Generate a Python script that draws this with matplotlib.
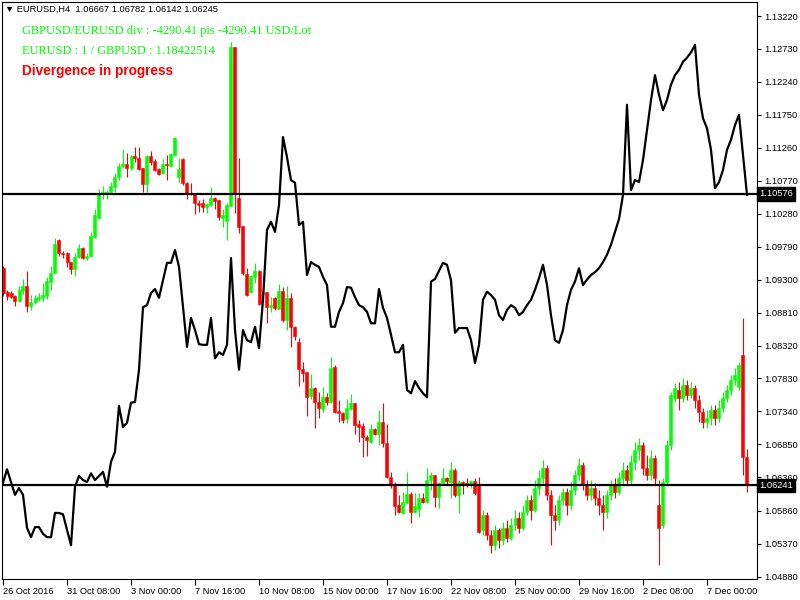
import numpy as np
import matplotlib
matplotlib.use("Agg")
import matplotlib.pyplot as plt

# EURUSD H4 candles
opens = [1.0947, 1.0912, 1.0910, 1.0906, 1.0898, 1.0913, 1.0921, 1.0891, 1.0897, 1.0901,
         1.0903, 1.0906, 1.0927, 1.0940, 1.0989, 1.0970, 1.0970, 1.0956, 1.0946, 1.0964,
         1.0977, 1.0962, 1.0965, 1.0993, 1.1022, 1.1057, 1.1059, 1.1060, 1.1068, 1.1083,
         1.1099, 1.1102, 1.1096, 1.1114, 1.1111, 1.1096, 1.1072, 1.1114, 1.1106, 1.1094,
         1.1089, 1.1102, 1.1099, 1.1115, 1.1083, 1.1109, 1.1074, 1.1059, 1.1059, 1.1044,
         1.1044, 1.1038, 1.1041, 1.1051, 1.1048, 1.1022, 1.1017, 1.1040, 1.1276, 1.1051,
         1.1010, 1.0938, 1.0912, 1.0934, 1.0943, 1.0909, 1.0912, 1.0889, 1.0903, 1.0886,
         1.0913, 1.0870, 1.0903, 1.0860, 1.0837, 1.0797, 1.0793, 1.0757, 1.0769, 1.0748,
         1.0738, 1.0755, 1.0748, 1.0800, 1.0735, 1.0732, 1.0723, 1.0738, 1.0747, 1.0715,
         1.0712, 1.0696, 1.0689, 1.0708, 1.0700, 1.0718, 1.0687, 1.0636, 1.0625, 1.0595,
         1.0583, 1.0598, 1.0611, 1.0584, 1.0589, 1.0605, 1.0599, 1.0632, 1.0640, 1.0607,
         1.0628, 1.0635, 1.0629, 1.0647, 1.0610, 1.0629, 1.0628, 1.0625, 1.0631, 1.0625,
         1.0558, 1.0580, 1.0550, 1.0535, 1.0558, 1.0543, 1.0561, 1.0546, 1.0565, 1.0576,
         1.0561, 1.0584, 1.0602, 1.0587, 1.0620, 1.0635, 1.0650, 1.0610, 1.0580, 1.0573,
         1.0602, 1.0614, 1.0595, 1.0617, 1.0640, 1.0654, 1.0625, 1.0610, 1.0620, 1.0605,
         1.0595, 1.0584, 1.0610, 1.0625, 1.0614, 1.0635, 1.0647, 1.0632, 1.0659, 1.0677,
         1.0684, 1.0650, 1.0640, 1.0665, 1.0595, 1.0565, 1.0629, 1.0684, 1.0754, 1.0766,
         1.0754, 1.0773, 1.0759, 1.0769, 1.0751, 1.0733, 1.0718, 1.0724, 1.0736, 1.0724,
         1.0739, 1.0754, 1.0766, 1.0781, 1.0770, 1.0818, 1.06667]
highs = [1.0950, 1.0915, 1.0913, 1.0907, 1.0921, 1.0931, 1.0943, 1.0907, 1.0907, 1.0910,
         1.0925, 1.0934, 1.0950, 1.0992, 1.0990, 1.0973, 1.0971, 1.0956, 1.0970, 1.0983,
         1.0979, 1.0970, 1.1001, 1.1035, 1.1065, 1.1069, 1.1063, 1.1075, 1.1089, 1.1103,
         1.1124, 1.1118, 1.1115, 1.1127, 1.1127, 1.1096, 1.1115, 1.1121, 1.1109, 1.1096,
         1.1109, 1.1115, 1.1118, 1.1142, 1.1111, 1.1111, 1.1075, 1.1074, 1.1059, 1.1048,
         1.1050, 1.1044, 1.1068, 1.1053, 1.1048, 1.1035, 1.1044, 1.1283, 1.1276, 1.1111,
         1.1010, 1.0947, 1.0937, 1.0955, 1.0944, 1.0919, 1.0912, 1.0904, 1.0904, 1.0924,
         1.0919, 1.0921, 1.0910, 1.0861, 1.0843, 1.0808, 1.0793, 1.0790, 1.0770, 1.0763,
         1.0770, 1.0761, 1.0815, 1.0803, 1.0751, 1.0733, 1.0753, 1.0760, 1.0747, 1.0721,
         1.0717, 1.0699, 1.0715, 1.0709, 1.0736, 1.0747, 1.0715, 1.0644, 1.0629, 1.0610,
         1.0614, 1.0644, 1.0614, 1.0613, 1.0613, 1.0613, 1.0650, 1.0644, 1.0640, 1.0629,
         1.0650, 1.0636, 1.0659, 1.0650, 1.0632, 1.0631, 1.0635, 1.0632, 1.0635, 1.0636,
         1.0587, 1.0584, 1.0558, 1.0565, 1.0561, 1.0570, 1.0573, 1.0576, 1.0587, 1.0584,
         1.0595, 1.0610, 1.0610, 1.0632, 1.0647, 1.0662, 1.0654, 1.0617, 1.0595, 1.0610,
         1.0620, 1.0620, 1.0629, 1.0647, 1.0665, 1.0659, 1.0632, 1.0632, 1.0628, 1.0617,
         1.0610, 1.0617, 1.0632, 1.0635, 1.0644, 1.0659, 1.0654, 1.0669, 1.0689, 1.0694,
         1.0689, 1.0669, 1.0677, 1.0669, 1.0632, 1.0635, 1.0692, 1.0763, 1.0776, 1.0778,
         1.0784, 1.0781, 1.0778, 1.0773, 1.0759, 1.0739, 1.0736, 1.0744, 1.0744, 1.0751,
         1.0763, 1.0773, 1.0788, 1.0799, 1.0808, 1.0873, 1.06782]
lows = [1.0906, 1.0900, 1.0903, 1.0891, 1.0897, 1.0909, 1.0882, 1.0885, 1.0894, 1.0898,
        1.0898, 1.0901, 1.0915, 1.0940, 1.0965, 1.0962, 1.0949, 1.0938, 1.0935, 1.0962,
        1.0961, 1.0959, 1.0964, 1.0992, 1.1022, 1.1050, 1.1050, 1.1060, 1.1060, 1.1078,
        1.1096, 1.1083, 1.1093, 1.1105, 1.1093, 1.1060, 1.1060, 1.1100, 1.1092, 1.1086,
        1.1087, 1.1078, 1.1098, 1.1114, 1.1075, 1.1071, 1.1050, 1.1056, 1.1028, 1.1031,
        1.1031, 1.1029, 1.1040, 1.1035, 1.1019, 1.1008, 1.0989, 1.1040, 1.1029, 1.0999,
        1.0937, 1.0906, 1.0910, 1.0925, 1.0892, 1.0900, 1.0865, 1.0882, 1.0885, 1.0886,
        1.0867, 1.0855, 1.0830, 1.0840, 1.0772, 1.0778, 1.0727, 1.0753, 1.0709, 1.0724,
        1.0733, 1.0744, 1.0747, 1.0732, 1.0718, 1.0717, 1.0717, 1.0736, 1.0700, 1.0689,
        1.0666, 1.0668, 1.0687, 1.0699, 1.0684, 1.0681, 1.0635, 1.0620, 1.0580, 1.0583,
        1.0581, 1.0598, 1.0568, 1.0583, 1.0577, 1.0598, 1.0598, 1.0617, 1.0592, 1.0590,
        1.0625, 1.0625, 1.0605, 1.0607, 1.0583, 1.0611, 1.0622, 1.0620, 1.0610, 1.0553,
        1.0550, 1.0543, 1.0524, 1.0528, 1.0531, 1.0535, 1.0540, 1.0543, 1.0558, 1.0553,
        1.0558, 1.0580, 1.0573, 1.0584, 1.0610, 1.0625, 1.0602, 1.0535, 1.0558, 1.0565,
        1.0595, 1.0580, 1.0587, 1.0610, 1.0632, 1.0617, 1.0602, 1.0602, 1.0595, 1.0580,
        1.0558, 1.0576, 1.0602, 1.0605, 1.0610, 1.0625, 1.0625, 1.0625, 1.0647, 1.0662,
        1.0640, 1.0632, 1.0632, 1.0625, 1.0506, 1.0561, 1.0625, 1.0677, 1.0748, 1.0736,
        1.0748, 1.0751, 1.0754, 1.0739, 1.0718, 1.0709, 1.0709, 1.0714, 1.0714, 1.0718,
        1.0733, 1.0748, 1.0759, 1.0773, 1.0766, 1.0640, 1.06142]
closes = [1.0910, 1.0906, 1.0904, 1.0898, 1.0915, 1.0921, 1.0891, 1.0897, 1.0903, 1.0904,
          1.0907, 1.0928, 1.0940, 1.0983, 1.0970, 1.0968, 1.0956, 1.0946, 1.0964, 1.0977,
          1.0962, 1.0965, 1.0995, 1.1026, 1.1059, 1.1060, 1.1060, 1.1069, 1.1083, 1.1099,
          1.1102, 1.1096, 1.1114, 1.1111, 1.1094, 1.1072, 1.1114, 1.1105, 1.1093, 1.1087,
          1.1102, 1.1100, 1.1117, 1.1141, 1.1094, 1.1074, 1.1059, 1.1057, 1.1044, 1.1041,
          1.1038, 1.1042, 1.1051, 1.1047, 1.1023, 1.1026, 1.1041, 1.1276, 1.1059, 1.1008,
          1.0940, 1.0907, 1.0935, 1.0943, 1.0894, 1.0912, 1.0889, 1.0892, 1.0888, 1.0913,
          1.0870, 1.0903, 1.0860, 1.0846, 1.0797, 1.0791, 1.0755, 1.0769, 1.0748, 1.0739,
          1.0755, 1.0748, 1.0799, 1.0733, 1.0732, 1.0721, 1.0739, 1.0747, 1.0714, 1.0711,
          1.0696, 1.0692, 1.0708, 1.0700, 1.0718, 1.0687, 1.0636, 1.0625, 1.0593, 1.0584,
          1.0599, 1.0611, 1.0584, 1.0593, 1.0605, 1.0599, 1.0632, 1.0640, 1.0607, 1.0628,
          1.0635, 1.0631, 1.0647, 1.0610, 1.0629, 1.0625, 1.0625, 1.0631, 1.0613, 1.0555,
          1.0580, 1.0550, 1.0535, 1.0558, 1.0543, 1.0561, 1.0546, 1.0565, 1.0576, 1.0561,
          1.0584, 1.0602, 1.0587, 1.0620, 1.0635, 1.0650, 1.0610, 1.0580, 1.0573, 1.0602,
          1.0614, 1.0595, 1.0617, 1.0640, 1.0654, 1.0625, 1.0610, 1.0620, 1.0605, 1.0595,
          1.0584, 1.0610, 1.0625, 1.0614, 1.0635, 1.0647, 1.0632, 1.0659, 1.0677, 1.0684,
          1.0650, 1.0640, 1.0665, 1.0635, 1.0561, 1.0629, 1.0684, 1.0759, 1.0769, 1.0754,
          1.0773, 1.0759, 1.0769, 1.0751, 1.0733, 1.0718, 1.0724, 1.0736, 1.0724, 1.0739,
          1.0754, 1.0766, 1.0781, 1.0788, 1.0803, 1.0666, 1.06245]

# GBPUSD overlay (black line), on the same price scale
overlay = [1.0628, 1.0648, 1.0629, 1.0610, 1.0620, 1.0610, 1.0561, 1.0547, 1.0562, 1.0562,
           1.0552, 1.0547, 1.0547, 1.0583, 1.0583, 1.0581, 1.0558, 1.0535, 1.0622, 1.0638,
           1.0632, 1.0629, 1.0642, 1.0632, 1.0638, 1.0644, 1.0622, 1.0659, 1.0674, 1.0742,
           1.0711, 1.0717, 1.0747, 1.0748, 1.0796, 1.0889, 1.0892, 1.0910, 1.0916, 1.0903,
           1.0929, 1.0955, 1.0955, 1.0974, 1.0949, 1.0889, 1.0830, 1.0873, 1.0855, 1.0834,
           1.0833, 1.0833, 1.0873, 1.0813, 1.0822, 1.0818, 1.0833, 1.0962, 1.0855, 1.0796,
           1.0855, 1.0840, 1.0837, 1.0860, 1.0828, 1.0900, 1.1004, 1.1016, 1.1001, 1.1041,
           1.1142, 1.1112, 1.1078, 1.1074, 1.1011, 1.1016, 1.0937, 1.0956, 1.0952, 1.0949,
           1.0934, 1.0922, 1.0860, 1.0860, 1.0882, 1.0895, 1.0919, 1.0918, 1.0904, 1.0892,
           1.0889, 1.0882, 1.0865, 1.0865, 1.0916, 1.0888, 1.0873, 1.0848, 1.0822, 1.0822,
           1.0833, 1.0766, 1.0761, 1.0779, 1.0769, 1.0761, 1.0755, 1.0927, 1.0931, 1.0943,
           1.0955, 1.0952, 1.0929, 1.0851, 1.0858, 1.0858, 1.0858, 1.0840, 1.0806, 1.0833,
           1.0900, 1.0912, 1.0907, 1.0900, 1.0877, 1.0870, 1.0885, 1.0892, 1.0888, 1.0877,
           1.0882, 1.0892, 1.0900, 1.0915, 1.0932, 1.0952, 1.0922, 1.0877, 1.0840, 1.0836,
           1.0855, 1.0892, 1.0915, 1.0927, 1.0947, 1.0922, 1.0930, 1.0937, 1.0941, 1.0947,
           1.0956, 1.0967, 1.0982, 1.1001, 1.1020, 1.1056, 1.1190, 1.1063, 1.1078, 1.1075,
           1.1108, 1.1153, 1.1197, 1.1234, 1.1205, 1.1182, 1.1197, 1.1220, 1.1234, 1.1242,
           1.1254, 1.1260, 1.1268, 1.1279, 1.1205, 1.1170, 1.1155, 1.1123, 1.1066, 1.1075,
           1.1093, 1.1123, 1.1138, 1.1160, 1.1175, 1.1115, 1.1056]

level_hi = 1.10576
level_lo = 1.06241

ytick_vals = [1.13220, 1.12730, 1.12240, 1.11750, 1.11260, 1.10770, 1.10280, 1.09790, 1.09300,
              1.08810, 1.08320, 1.07830, 1.07340, 1.06850, 1.06360, 1.05860, 1.05370, 1.04880]
xtick_bars = [0, 16, 32, 48, 64, 80, 96, 112, 128, 144, 160, 176]
xtick_labels = ["26 Oct 2016", "31 Oct 08:00", "3 Nov 00:00", "7 Nov 16:00", "10 Nov 08:00",
                "15 Nov 00:00", "17 Nov 16:00", "22 Nov 08:00", "25 Nov 00:00", "29 Nov 16:00",
                "2 Dec 08:00", "7 Dec 00:00"]

plt.rcParams['font.family'] = ['Liberation Sans', 'DejaVu Sans']

opens = np.array(opens)
closes = np.array(closes)
x = np.arange(len(closes))
colors = np.where(closes >= opens, '#00ff00', '#ff0000')

fig = plt.figure(figsize=(8, 6), dpi=100)
ax = fig.add_axes([2 / 800, 21 / 600, 755 / 800, 577.5 / 600])

ax.vlines(x, lows, highs, colors=colors, lw=0.8, zorder=2)
ax.bar(x, closes - opens, bottom=opens, width=0.75, color=colors,
       edgecolor=colors, linewidth=0.4, zorder=2)
ax.plot(x, overlay, color='black', lw=1.6, zorder=3)
ax.axhline(level_hi, color='black', lw=1.6, zorder=4)
ax.axhline(level_lo, color='black', lw=1.6, zorder=4)

ax.set_xlim(-0.25, 188.5)
ax.set_ylim(1.04848, 1.13436)

ax.yaxis.tick_right()
ax.set_yticks(ytick_vals)
ax.set_yticklabels(['%.5f' % v for v in ytick_vals])
ax.tick_params(axis='y', direction='out', length=3, width=0.8, pad=2, labelsize=6.7)
ax.set_xticks(xtick_bars)
ax.set_xticklabels(xtick_labels, ha='left')
ax.tick_params(axis='x', direction='out', length=4, width=0.8, pad=2, labelsize=6.7)
for s in ax.spines.values():
    s.set_linewidth(0.8)

for lvl in [level_hi, level_lo]:
    ax.annotate('%.5f' % lvl, xy=(1, lvl), xycoords=ax.get_yaxis_transform(),
                xytext=(1.5, 0), textcoords='offset points', va='center', ha='left',
                color='white', fontsize=6.7,
                bbox=dict(boxstyle='square,pad=0.25', fc='black', ec='black'))

fig.text(5 / 800, 1 - 9 / 600, "\u25bc EURUSD,H4  1.06667 1.06782 1.06142 1.06245",
         va='center', ha='left', fontsize=6.7, color='black')
fig.text(22 / 800, 1 - 31 / 600, "GBPUSD/EURUSD div : -4290.41 pis -4290.41 USD/Lot",
         va='center', ha='left', fontsize=8.9, color='#00ff00', family='Liberation Serif')
fig.text(22 / 800, 1 - 51 / 600, "EURUSD : 1 / GBPUSD : 1.18422514",
         va='center', ha='left', fontsize=8.9, color='#00ff00', family='Liberation Serif')
fig.text(22 / 800, 1 - 71 / 600, "Divergence in progress",
         va='center', ha='left', fontsize=9.8, color='#ff0000', fontweight='bold')

fig.savefig('out.png', dpi=100)
